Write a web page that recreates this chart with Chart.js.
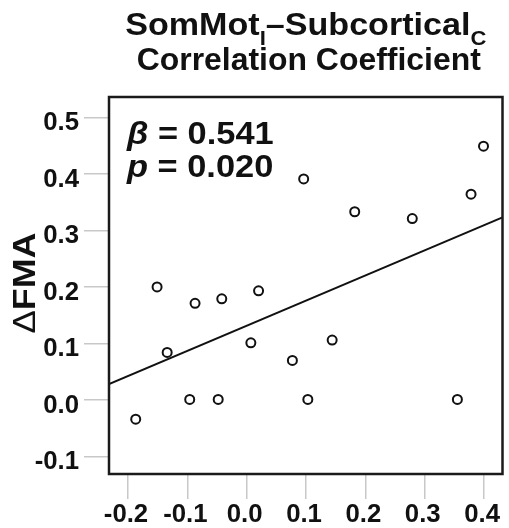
<!DOCTYPE html>
<html>
<head>
<meta charset="utf-8">
<script src="https://cdn.jsdelivr.net/npm/chart.js@4/dist/chart.umd.min.js"></script>
<style>
  body { margin: 0; background: #fff; }
  canvas { display: block; }
</style>
</head>
<body>
<canvas id="corrChart" width="509" height="528"></canvas>
<script>
// connectivity change (x) vs motor recovery (y), one point per patient
const connVals = [-0.187, -0.151, -0.134, -0.096, -0.087, -0.048, -0.042, 0.007, 0.020,
  0.077, 0.096, 0.103, 0.144, 0.182, 0.279, 0.355, 0.378, 0.399];
const fmaVals = [-0.034, 0.200, 0.084, 0.001, 0.171, 0.001, 0.179, 0.101, 0.193,
  0.070, 0.391, 0.001, 0.106, 0.333, 0.321, 0.001, 0.364, 0.449];

// fitted line, at the two edges of the plot
const fitX = [-0.232, 0.431];
const fitY = [0.028, 0.323];

const xTicks = [-0.2, -0.1, 0.0, 0.1, 0.2, 0.3, 0.4];
const yTicks = [-0.1, 0.0, 0.1, 0.2, 0.3, 0.4, 0.5];

const FONT = '"Liberation Sans", Arial, Helvetica, sans-serif';

// draw a row of text pieces, stretched horizontally by sx
function drawRuns(ctx, runs, x, y, sx, align) {
  let w = 0;
  runs.forEach(r => { ctx.font = r.font; r.w = ctx.measureText(r.text).width; w += r.w; });
  let start = x;
  if (align === 'center') start = x - w * sx / 2;
  else if (align === 'right') start = x - w * sx;
  ctx.save();
  ctx.translate(start, y);
  ctx.scale(sx, 1);
  ctx.textBaseline = 'alphabetic';
  ctx.textAlign = 'left';
  let cx = 0;
  runs.forEach(r => {
    ctx.font = r.font;
    ctx.fillText(r.text, cx, r.dy || 0);
    cx += r.w;
  });
  ctx.restore();
}

const textLayer = {
  id: 'textLayer',
  beforeDraw(chart) {
    const ctx = chart.ctx;
    ctx.save();
    ctx.fillStyle = '#fff';
    ctx.fillRect(0, 0, chart.width, chart.height);
    ctx.restore();
  },
  afterDraw(chart) {
    const ctx = chart.ctx;
    const a = chart.chartArea;
    const xs = chart.scales.x, ys = chart.scales.y;
    ctx.save();
    ctx.fillStyle = '#111';

    // frame
    ctx.strokeStyle = '#1a1a1a';
    ctx.lineWidth = 2.5;
    ctx.strokeRect(a.left, a.top, a.right - a.left, a.bottom - a.top);

    // title
    const mid = (a.left + a.right) / 2;
    const tf = 'bold 31px ' + FONT, sf = 'bold 20px ' + FONT;
    drawRuns(ctx, [
      { text: 'SomMot', font: tf },
      { text: 'I', font: sf, dy: 10 },
      { text: '\u2013Subcortical', font: tf },
      { text: 'C', font: sf, dy: 10 }
    ], mid, 35, 1.1, 'center');
    drawRuns(ctx, [{ text: 'Correlation Coefficient', font: tf }], mid + 3, 70, 1.03, 'center');

    // stats
    const af = 'bold 31px ' + FONT, ai = 'italic bold 31px ' + FONT;
    drawRuns(ctx, [{ text: '\u03b2', font: ai }, { text: ' = 0.541', font: af }], 127, 144, 1.11, 'left');
    drawRuns(ctx, [{ text: 'p', font: ai }, { text: ' = 0.020', font: af }], 127, 177, 1.11, 'left');

    // tick labels
    const kf = 'bold 25px ' + FONT;
    ys.ticks.forEach(t => {
      drawRuns(ctx, [{ text: t.value.toFixed(1), font: kf }], 79, ys.getPixelForValue(t.value) + 13, 1.03, 'right');
    });
    xs.ticks.forEach(t => {
      drawRuns(ctx, [{ text: t.value.toFixed(1), font: kf }], xs.getPixelForValue(t.value) - 2, 521.5, 1.03, 'center');
    });

    // y axis title
    ctx.save();
    ctx.translate(35, 283);
    ctx.rotate(-Math.PI / 2);
    drawRuns(ctx, [
      { text: '\u0394', font: '31px ' + FONT },
      { text: 'FMA', font: 'bold 32px ' + FONT }
    ], 0, 0, 1.12, 'center');
    ctx.restore();

    ctx.restore();
  }
};

const points = connVals.map((v, i) => ({ x: v, y: fmaVals[i] }));
const fitLine = fitX.map((v, i) => ({ x: v, y: fitY[i] }));

const tickGrid = {
  drawOnChartArea: false,
  drawTicks: true,
  tickLength: 25,
  color: '#c8c8c8',
  lineWidth: 1.5
};

new Chart('corrChart', {
  type: 'scatter',
  data: {
    datasets: [{
      data: points,
      pointStyle: 'circle',
      pointRadius: 4.5,
      borderWidth: 2,
      borderColor: '#111',
      backgroundColor: 'rgba(255,255,255,0)'
    }, {
      type: 'line',
      data: fitLine,
      borderColor: '#111',
      borderWidth: 2,
      pointRadius: 0,
      fill: false
    }]
  },
  options: {
    responsive: false,
    animation: false,
    events: [],
    layout: { padding: { top: 97, right: 6, left: 0, bottom: 0 } },
    plugins: { legend: { display: false }, tooltip: { enabled: false } },
    scales: {
      x: {
        type: 'linear',
        min: -0.232,
        max: 0.431,
        afterBuildTicks: s => { s.ticks = xTicks.map(v => ({ value: v })); },
        afterFit: s => { s.height = 54; },
        ticks: { display: false },
        grid: tickGrid,
        border: { display: false }
      },
      y: {
        type: 'linear',
        min: -0.131,
        max: 0.536,
        afterBuildTicks: s => { s.ticks = yTicks.map(v => ({ value: v })); },
        afterFit: s => { s.width = 109; },
        ticks: { display: false },
        grid: tickGrid,
        border: { display: false }
      }
    }
  },
  plugins: [textLayer]
});
</script>
</body>
</html>
